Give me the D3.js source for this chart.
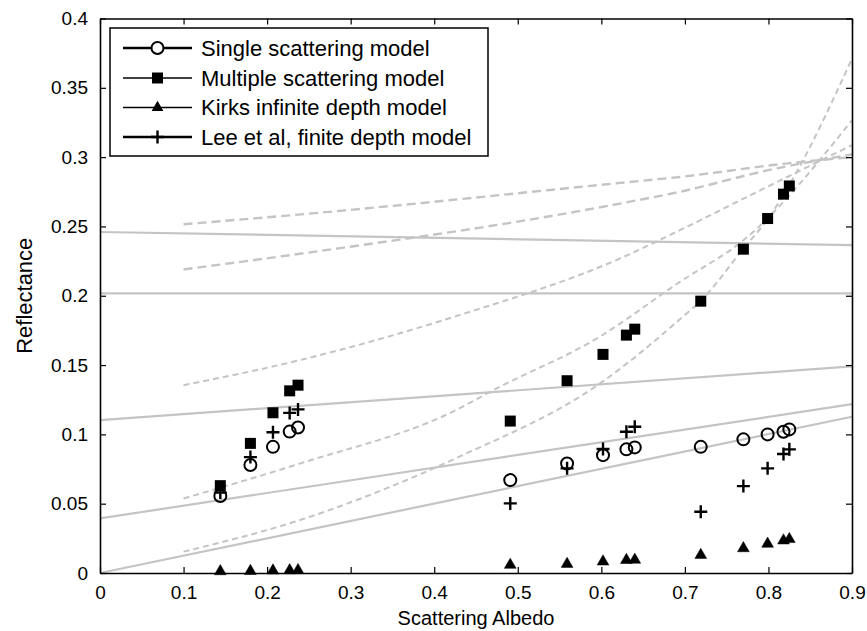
<!DOCTYPE html>
<html>
<head>
<meta charset="utf-8">
<script src="https://cdn.jsdelivr.net/npm/d3@7"></script>
<style>
  body { margin: 0; background: #fff; }
  text { font-family: "Liberation Sans", Arial, sans-serif; fill: #000; }
</style>
</head>
<body>
<div id="content"></div>
<script>
// scattering albedo of each sample
let albedo = [0.144, 0.180, 0.207, 0.227, 0.237, 0.491, 0.559, 0.602, 0.630, 0.640, 0.719, 0.770, 0.799, 0.818, 0.825];

// reflectance per model
let singleScat = [0.0555, 0.0779, 0.091, 0.102, 0.105, 0.067, 0.079, 0.085, 0.0892, 0.0906, 0.091, 0.0964, 0.100, 0.1019, 0.1036];
let multiScat = [0.063, 0.0935, 0.1156, 0.1314, 0.1355, 0.1096, 0.1387, 0.1577, 0.1716, 0.1759, 0.1961, 0.2336, 0.2557, 0.2733, 0.2792];
let kirk = [0.0012, 0.0014, 0.0017, 0.0019, 0.002, 0.0058, 0.0065, 0.0082, 0.0093, 0.0095, 0.013, 0.0178, 0.021, 0.0234, 0.0244];
let lee = [0.058, 0.0836, 0.1015, 0.1155, 0.118, 0.0502, 0.0755, 0.0895, 0.1019, 0.1055, 0.0442, 0.0627, 0.0755, 0.0858, 0.0892];

// grey solid lines (end points)
let solidX = [0, 0.9];
let solid1 = [0.246, 0.2365];
let solid2 = [0.2017, 0.2017];
let solid3 = [0.1103, 0.149];
let solid4 = [0.0394, 0.1218];
let solid5 = [0, 0.1127];

// grey dashed curves
let dash1X = [0.1, 0.2274, 0.6224, 0.694, 0.82, 0.9];
let dash1Y = [0.2516, 0.258, 0.2814, 0.2857, 0.2953, 0.300];
let dash2X = [0.1, 0.2274, 0.6224, 0.694, 0.8, 0.9];
let dash2Y = [0.219, 0.2293, 0.2665, 0.275, 0.2906, 0.302];
let dash3X = [0.1, 0.2394, 0.43, 0.6224, 0.694, 0.8, 0.9];
let dash3Y = [0.1355, 0.1536, 0.186, 0.2269, 0.2473, 0.279, 0.3086];
let dash4X = [0.1, 0.2394, 0.43, 0.4668, 0.5985, 0.694, 0.77, 0.9];
let dash4Y = [0.0538, 0.079, 0.1187, 0.1307, 0.1706, 0.21, 0.240, 0.3266];
let dash5X = [0.1, 0.2394, 0.43, 0.5985, 0.694, 0.72, 0.77, 0.80, 0.826, 0.9];
let dash5Y = [0.0154, 0.0382, 0.0839, 0.1368, 0.183, 0.197, 0.234, 0.256, 0.281, 0.371];

let xTicks = [0, 0.1, 0.2, 0.3, 0.4, 0.5, 0.6, 0.7, 0.8, 0.9];
let yTicks = [0, 0.05, 0.1, 0.15, 0.2, 0.25, 0.3, 0.35, 0.4];
let legendLabels = ["Single scattering model", "Multiple scattering model", "Kirks infinite depth model", "Lee et al, finite depth model"];

let width = 867;
let height = 631;
let margin = {left: 100, right: 15, top: 18.5, bottom: 58};

let svg = d3.select("#content").append("svg")
            .attr("width", width)
            .attr("height", height);

let x = d3.scaleLinear().domain([0, 0.9]).range([margin.left, width - margin.right]);
let y = d3.scaleLinear().domain([0, 0.4]).range([height - margin.bottom, margin.top]);

// grey model curves
let line = d3.line().x(d => x(d[0])).y(d => y(d[1]));
let solids = [solid1, solid2, solid3, solid4, solid5].map(s => solidX.map((v, i) => [v, s[i]]));
let dashes = [[dash1X, dash1Y], [dash2X, dash2Y], [dash3X, dash3Y], [dash4X, dash4Y], [dash5X, dash5Y]]
  .map(p => p[0].map((v, i) => [v, p[1][i]]));

svg.selectAll("path.solid").data(solids).enter().append("path")
   .attr("class", "solid")
   .attr("d", line)
   .style("fill", "none")
   .style("stroke", "#c4c4c4")
   .style("stroke-width", 2.2);

svg.selectAll("path.dash").data(dashes).enter().append("path")
   .attr("class", "dash")
   .attr("d", line.curve(d3.curveMonotoneX))
   .style("fill", "none")
   .style("stroke", "#c4c4c4")
   .style("stroke-width", (d, i) => i < 2 ? 2.4 : 2)
   .style("stroke-dasharray", (d, i) => i < 2 ? "9,5" : "6,4");

// axes, box with inward ticks on all sides
let fmt = d3.format("");
svg.append("g").attr("transform", `translate(0,${y(0)})`)
   .call(d3.axisBottom(x).tickValues(xTicks).tickFormat(fmt).tickSizeInner(-6).tickSizeOuter(0).tickPadding(13));
svg.append("g").attr("transform", `translate(0,${y(0.4)})`)
   .call(d3.axisTop(x).tickValues(xTicks).tickFormat("").tickSizeInner(-6).tickSizeOuter(0));
svg.append("g").attr("transform", `translate(${x(0)},0)`)
   .call(d3.axisLeft(y).tickValues(yTicks).tickFormat(fmt).tickSizeInner(-6).tickSizeOuter(0).tickPadding(12));
svg.append("g").attr("transform", `translate(${x(0.9)},0)`)
   .call(d3.axisRight(y).tickValues(yTicks).tickFormat("").tickSizeInner(-6).tickSizeOuter(0));

svg.selectAll(".domain").style("stroke", "#000").style("stroke-width", 1.6);
svg.selectAll(".tick line").style("stroke", "#000").style("stroke-width", 1.2);
svg.selectAll(".tick text").style("font-size", "19px").style("font-family", "Liberation Sans, Arial, sans-serif").attr("fill", "#000");

svg.append("text")
   .attr("x", (x(0) + x(0.9)) / 2)
   .attr("y", 625)
   .attr("text-anchor", "middle")
   .style("font-size", "20px")
   .text("Scattering Albedo");

svg.append("text")
   .attr("transform", `translate(32,${(y(0) + y(0.4)) / 2}) rotate(-90)`)
   .attr("text-anchor", "middle")
   .style("font-size", "22px")
   .text("Reflectance");

// markers
let pts = (vals) => albedo.map((a, i) => [a, vals[i]]);
let triPath = d3.symbol(d3.symbolTriangle, 60)();
let plusPath = "M-6.5,0H6.5M0,-6.5V6.5";

function drawCircles(g, data) {
  g.selectAll("circle").data(data).enter().append("circle")
   .attr("cx", d => x(d[0])).attr("cy", d => y(d[1])).attr("r", 6)
   .style("fill", "none").style("stroke", "#000").style("stroke-width", 2);
}
function drawSquares(g, data) {
  g.selectAll("rect").data(data).enter().append("rect")
   .attr("x", d => x(d[0]) - 5.5).attr("y", d => y(d[1]) - 5.5)
   .attr("width", 11).attr("height", 11)
   .style("fill", "#000");
}
function drawPath(g, data, p, filled) {
  g.selectAll("path").data(data).enter().append("path")
   .attr("transform", d => `translate(${x(d[0])},${y(d[1])})`)
   .attr("d", p)
   .style("fill", filled ? "#000" : "none")
   .style("stroke", "#000")
   .style("stroke-width", filled ? 0.5 : 2.4);
}

drawCircles(svg.append("g"), pts(singleScat));
drawSquares(svg.append("g"), pts(multiScat));
drawPath(svg.append("g"), pts(kirk), triPath, true);
drawPath(svg.append("g"), pts(lee), plusPath, false);

// legend
let lg = svg.append("g");
lg.append("rect").attr("x", 110).attr("y", 28).attr("width", 378).attr("height", 128)
  .style("fill", "#fff").style("stroke", "#000").style("stroke-width", 1.5);
let rowY = [48, 78, 107.5, 137];
let lineW = [2.6, 1.5, 1.5, 2.6];
legendLabels.forEach(function(lbl, i) {
  lg.append("line").attr("x1", 123).attr("x2", 192).attr("y1", rowY[i]).attr("y2", rowY[i])
    .style("stroke", "#000").style("stroke-width", lineW[i]);
  lg.append("text").attr("x", 201).attr("y", rowY[i]).attr("dy", "0.35em")
    .style("font-size", "22px").text(lbl);
});
let cx = 157.5;
lg.append("circle").attr("cx", cx).attr("cy", rowY[0]).attr("r", 6)
  .style("fill", "#fff").style("stroke", "#000").style("stroke-width", 2);
lg.append("rect").attr("x", cx - 5.5).attr("y", rowY[1] - 5.5).attr("width", 11).attr("height", 11).style("fill", "#000");
lg.append("path").attr("transform", `translate(${cx},${rowY[2]})`).attr("d", triPath).style("fill", "#000");
lg.append("path").attr("transform", `translate(${cx},${rowY[3]})`).attr("d", plusPath)
  .style("stroke", "#000").style("stroke-width", 2.4);
</script>
</body>
</html>
